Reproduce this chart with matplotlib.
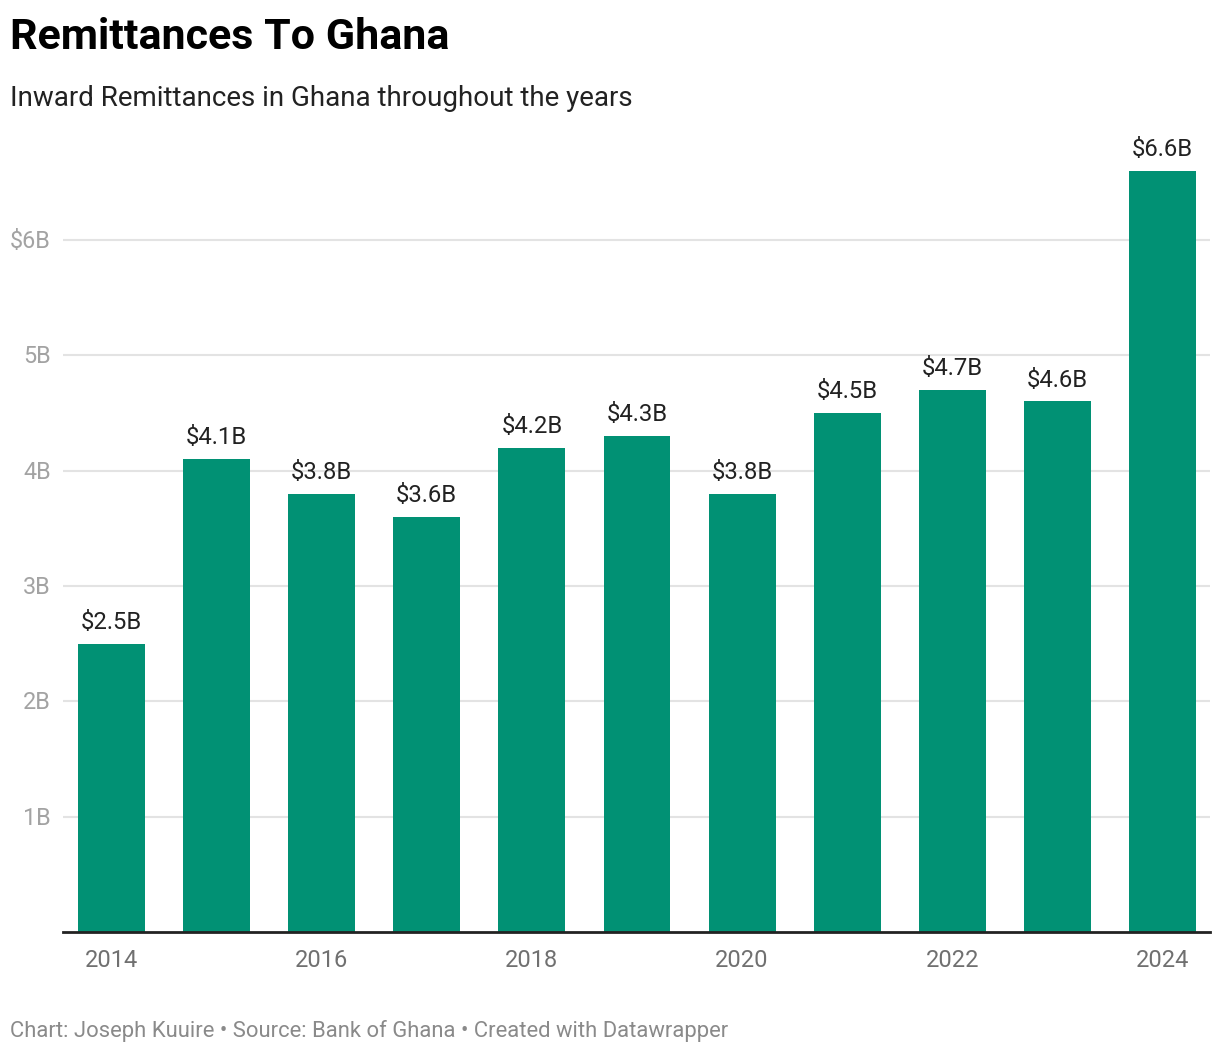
import matplotlib.pyplot as plt

# data
years = [2014, 2015, 2016, 2017, 2018, 2019, 2020, 2021, 2022, 2023, 2024]
remit = [2.5, 4.1, 3.8, 3.6, 4.2, 4.3, 3.8, 4.5, 4.7, 4.6, 6.6]
value_labels = ['$2.5B', '$4.1B', '$3.8B', '$3.6B', '$4.2B', '$4.3B',
                '$3.8B', '$4.5B', '$4.7B', '$4.6B', '$6.6B']
y_ticks = [1, 2, 3, 4, 5, 6]
y_tick_labels = ['1B', '2B', '3B', '4B', '5B', '$6B']
x_ticks = [2014, 2016, 2018, 2020, 2022, 2024]

plt.rcParams['font.family'] = ['Roboto', 'DejaVu Sans']

W, H = 1220, 1054
fig = plt.figure(figsize=(W / 100, H / 100), dpi=100)

# axes in pixel coords
ax_l, ax_r, ax_b = 63, 1210, 932
px_per_unit = (932 - 240) / 6.0
ymax = 6.9
ax_t = ax_b - ymax * px_per_unit
ax = fig.add_axes([ax_l / W, 1 - ax_b / H, (ax_r - ax_l) / W, (ax_b - ax_t) / H])

green = '#019174'
ax.bar(years, remit, width=0.637, color=green, zorder=3)
for x, v, lab in zip(years, remit, value_labels):
    ax.annotate(lab, (x, v), xytext=(0, 7), textcoords='offset points',
                ha='center', va='bottom', fontsize=17.2, color='#222222')

ax.set_xlim(2014 - 0.4615, 2024 + 0.452)
ax.set_ylim(0, ymax)

for s in ['top', 'right', 'left']:
    ax.spines[s].set_visible(False)
ax.spines['bottom'].set_color('#222222')
ax.spines['bottom'].set_linewidth(2)
ax.spines['bottom'].set_zorder(4)

ax.set_yticks(y_ticks)
ax.set_yticklabels([])
ax.tick_params(axis='y', length=0)
ax.grid(axis='y', color='#e3e3e3', linewidth=1.5, zorder=0)
for v, lab in zip(y_ticks, y_tick_labels):
    ax.text(51 / W, 1 - (ax_b - v * px_per_unit + 1.5) / H, lab, transform=fig.transFigure,
            ha='right', va='center', fontsize=16.8, color='#a3a3a3')

ax.set_xticks(x_ticks)
ax.set_xticklabels([str(x) for x in x_ticks], fontsize=17, color='#707070')
ax.tick_params(axis='x', length=0, pad=12)

fig.text(10 / W, 1 - 37.5 / H, 'Remittances To Ghana', fontsize=31, fontweight='bold',
         color='#000000', va='center', ha='left')
fig.text(10 / W, 1 - 98.5 / H, 'Inward Remittances in Ghana throughout the years',
         fontsize=20, color='#222222', va='center', ha='left')
fig.text(10 / W, 1 - 1031.5 / H,
         'Chart: Joseph Kuuire \u2022 Source: Bank of Ghana \u2022 Created with Datawrapper',
         fontsize=15.8, color='#8a8a8a', va='center', ha='left')

fig.savefig('out.png', dpi=100, facecolor='white')
